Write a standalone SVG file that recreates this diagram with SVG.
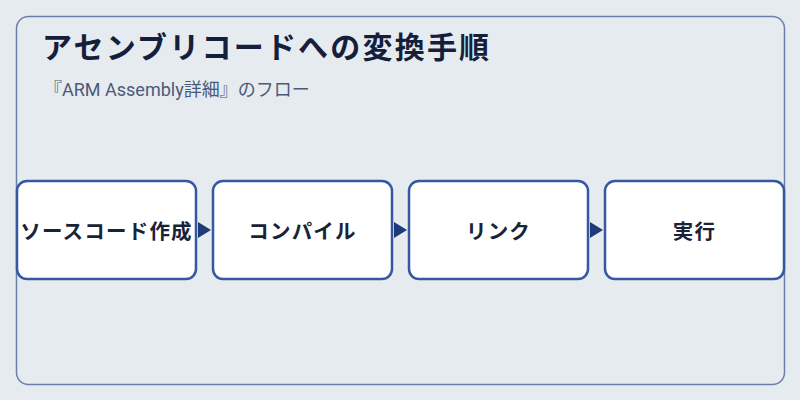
<svg xmlns="http://www.w3.org/2000/svg" width="800" height="400" viewBox="0 0 800 400">
<style>
.title{font-family:"Noto Sans CJK JP","Noto Sans",sans-serif;font-weight:700;font-size:30px;fill:#14203a;letter-spacing:2.2px}
.sub{font-family:Roboto,"Noto Sans CJK JP",sans-serif;font-size:18px;fill:#4a5a78}
.box{fill:#ffffff;stroke:#3558a0;stroke-width:2.5}
.lbl{font-family:"Noto Sans CJK JP","Noto Sans",sans-serif;font-weight:700;font-size:20.5px;fill:#1a2238;text-anchor:middle;dominant-baseline:central;letter-spacing:1.2px}
.arr{fill:#1e3a78}
</style>
<rect width="800" height="400" fill="#e6ebf0"/>
<rect x="16.5" y="16.5" width="768" height="368" rx="12" fill="#e6ebf0" stroke="#6a80a8" stroke-width="1.5"/>
<text class="title" x="42" y="58">アセンブリコードへの変換手順</text>
<text class="sub" x="44" y="96">『ARM Assembly詳細』のフロー</text>
<g id="connectors">
<polygon class="arr" points="198,222 211,230 198,238"/>
<polygon class="arr" points="394,222 407,230 394,238"/>
<polygon class="arr" points="590,222 603,230 590,238"/>
</g>
<g id="node1"><rect class="box" x="17" y="181" width="179" height="98" rx="10"/><text class="lbl" x="106.5" y="230">ソースコード作成</text></g>
<g id="node2"><rect class="box" x="213" y="181" width="179" height="98" rx="10"/><text class="lbl" x="302.5" y="230">コンパイル</text></g>
<g id="node3"><rect class="box" x="409" y="181" width="179" height="98" rx="10"/><text class="lbl" x="498.5" y="230">リンク</text></g>
<g id="node4"><rect class="box" x="605" y="181" width="179" height="98" rx="10"/><text class="lbl" x="694.5" y="230">実行</text></g>
</svg>
